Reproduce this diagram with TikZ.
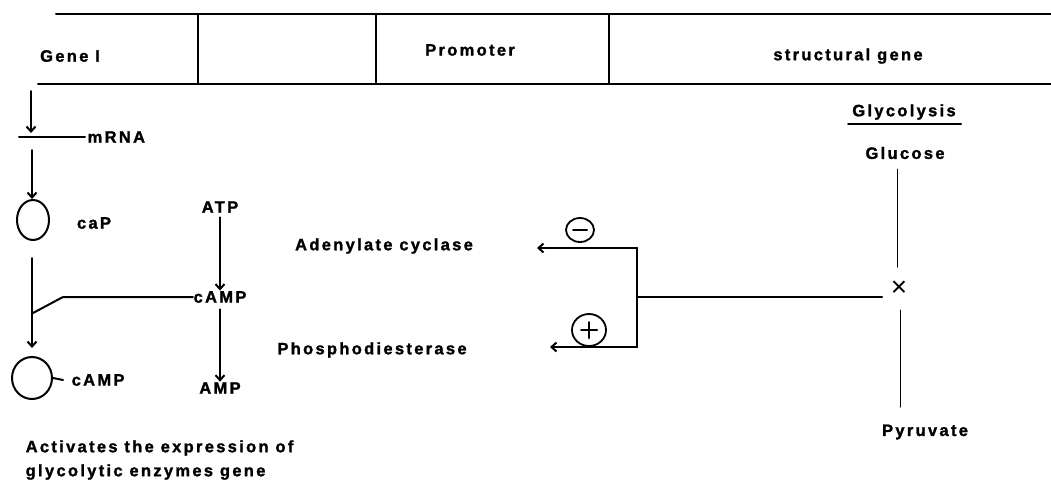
\documentclass[tikz,border=0pt]{standalone}
\usepackage{fontspec}
\usetikzlibrary{arrows.meta,shapes.geometric}
\newfontfamily\lblfont{Liberation Sans Bold}[LetterSpace=14,FakeBold=1.5]
\newfontfamily\signfont{Liberation Sans}
\tikzset{
  every node/.style={font=\lblfont\fontsize{16.5}{24}\selectfont, inner sep=0.5pt},
  edge/.style={line width=2pt},
  thin edge/.style={line width=1pt},
  arr/.style={edge, -{Straight Barb[length=5pt,width=9pt]}},
  blob/.style={ellipse, draw, line width=2pt, inner sep=0pt},
  sign/.style={blob, line width=1.8pt}
}

\begin{document}
\begin{tikzpicture}[x=1pt,y=-1pt,line cap=round,line join=round]
  \useasboundingbox (0,0) rectangle (1051,483);

  % gene map
  \draw[edge] (56,14) -- (1051,14);
  \draw[edge] (38,84) -- (1051,84);
  \foreach \x in {198,376,609} \draw[edge] (\x,14) -- (\x,84);
  \node (gene) at (70,56) {Gene I};
  \node (prom) at (470,50) {Promoter};
  \node (sgene) at (848,56) {structural gene};

  % regulator gene -> CAP
  \coordinate (t0) at (31,91);
  \coordinate (t1) at (31,133);
  \coordinate (m0) at (19,137);
  \coordinate (t2) at (32,150);
  \node[anchor=west] (mrna) at (87,137) {mRNA};
  \draw[arr] (t0) -- (t1);
  \draw[edge] (m0) -- ([xshift=-2pt]mrna.west);
  \node[blob, minimum width=32, minimum height=40] (cap) at (33,220) {};
  \node (caplbl) at (94,223) {caP};
  \draw[arr] (t2) -- (t2 |- cap.north);

  \node[blob, minimum width=40, minimum height=42] (camp) at (32,378) {};
  \node[anchor=west] (camplbl) at (71,380) {cAMP};
  \coordinate (c0) at (32,258);
  \coordinate (j0) at (33,313);
  \coordinate (j1) at (63,297);
  \draw[arr] (c0) -- ([yshift=8pt]camp.north);
  \draw[edge] (camp.east) -- ([xshift=-8pt]camplbl.west);

  % ATP -> cAMP -> AMP
  \node (atp) at (220,207) {ATP};
  \node (cmp) at (220,297) {cAMP};
  \node (amp) at (220,388) {AMP};
  \draw[arr, shorten <=4pt] (atp) -- (cmp);
  \draw[arr, shorten <=6pt] (cmp) -- (amp);
  \draw[edge] (j0) -- (j1) -- (cmp.west);

  % enzymes
  \node (adc) at (384,246) {Adenylate cyclase};
  \node (pde) at (372,350) {Phosphodiesterase};
  \coordinate (b1) at (637,248);
  \coordinate (b2) at (637,347);
  \coordinate (b3) at (637,297);
  \coordinate (a1) at (537,248);
  \coordinate (a2) at (550,347);
  \coordinate (x0) at (882,297);
  \draw[arr] (b1) -- (a1);
  \draw[arr] (b2) -- (a2);
  \draw[edge] (b1) -- (b2);
  \draw[edge] (b3) -- (x0);
  \node[sign, minimum width=28, minimum height=24] (inh) at (580,230) {};
  \draw[edge] ([xshift=-7pt]inh.center) -- ([xshift=7pt]inh.center);
  \node[sign, minimum width=34, minimum height=32] (act) at (589,330) {};
  \draw[edge] ([xshift=-8pt]act.center) -- ([xshift=8pt]act.center);
  \draw[edge] ([yshift=-8pt]act.center) -- ([yshift=8pt]act.center);

  % glycolysis
  \node (glyc) at (904,112) {Glycolysis};
  \draw[edge] (848,124) -- (961,124);
  \node (glu) at (905,153) {Glucose};
  \node (pyr) at (925,432) {Pyruvate};
  \node[font=\signfont\fontsize{28}{28}\selectfont] (cross) at (899,289) {×};
  \coordinate (g0) at (897,169);
  \coordinate (g1) at (897,267);
  \coordinate (p0) at (900,310);
  \coordinate (p1) at (900,407);
  \draw[thin edge] (g0) -- (g1);
  \draw[thin edge] (p0) -- (p1);

  \node[anchor=west, align=left] (note) at (25,460)
    {Activates the expression of\\glycolytic enzymes gene};
\end{tikzpicture}
\end{document}
